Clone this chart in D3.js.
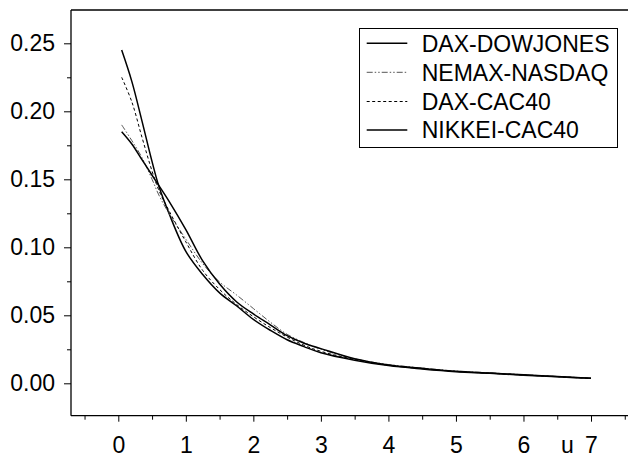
<!DOCTYPE html>
<html>
<head>
<meta charset="utf-8">
<script src="https://cdn.jsdelivr.net/npm/d3@7"></script>
<style>
html,body{margin:0;padding:0;background:#fff;}
svg{display:block;font-family:"Liberation Sans",Arial,sans-serif;}
</style>
</head>
<body>
<svg id="chart" width="628" height="457"></svg>
<script>
const seriesNames = ["DAX-DOWJONES", "NEMAX-NASDAQ", "DAX-CAC40", "NIKKEI-CAC40"];
const uValues = [0.05, 0.2, 0.35, 0.5, 0.6, 0.75, 1.0, 1.25, 1.5, 1.75, 2.0, 2.25, 2.5, 2.75, 3.0, 3.5, 4.0, 4.5, 5.0, 5.5, 6.0, 6.5, 7.0];
const daxDowjones = [0.245, 0.222, 0.193, 0.163, 0.145, 0.125, 0.097, 0.080, 0.0665, 0.057, 0.047, 0.039, 0.032, 0.027, 0.0225, 0.017, 0.013, 0.0105, 0.0085, 0.0073, 0.006, 0.0048, 0.0037];
const nemaxNasdaq = [0.19, 0.1785, 0.166, 0.150, 0.1385, 0.125, 0.106, 0.088, 0.0745, 0.065, 0.055, 0.045, 0.036, 0.030, 0.025, 0.018, 0.0138, 0.0112, 0.009, 0.0077, 0.0063, 0.005, 0.0038];
const daxCac40 = [0.225, 0.207, 0.181, 0.156, 0.142, 0.127, 0.104, 0.083, 0.069, 0.058, 0.049, 0.041, 0.034, 0.028, 0.0235, 0.0175, 0.0133, 0.0108, 0.0087, 0.0074, 0.0061, 0.0049, 0.0036];
const nikkeiCac40 = [0.185, 0.176, 0.1645, 0.153, 0.1455, 0.134, 0.113, 0.090, 0.073, 0.060, 0.051, 0.043, 0.035, 0.0295, 0.0255, 0.018, 0.0135, 0.011, 0.0088, 0.0075, 0.0062, 0.005, 0.0038];
const yTickValues = [0, 0.05, 0.10, 0.15, 0.20, 0.25];
const yMinorTicks = [0.025, 0.075, 0.125, 0.175, 0.225];
const xTickValues = [0, 1, 2, 3, 4, 5, 6, 7];
const xMinorTicks = [-0.5, 0.5, 1.5, 2.5, 3.5, 4.5, 5.5, 6.5, 7.5];
const xAxisLabel = "u";

const svg = d3.select("#chart");
const plotLeft = 71, plotTop = 10, plotBottom = 415.7, plotRight = 628;
const fontSize = 23;

const x = d3.scaleLinear().domain([0, 7]).range([118.3, 591]);
const y = d3.scaleLinear().domain([0, 0.25]).range([383.3, 43.3]);

const styles = [
  {stroke: "#000", width: 1.5, dash: null},
  {stroke: "#555", width: 1, dash: "6,2,1.5,2,1.5,2"},
  {stroke: "#000", width: 1, dash: "3,2.5"},
  {stroke: "#000", width: 1.5, dash: null}
];
const allSeries = [daxDowjones, nemaxNasdaq, daxCac40, nikkeiCac40];

// frame lines
svg.append("line").attr("x1", plotLeft).attr("x2", plotLeft).attr("y1", plotTop).attr("y2", plotBottom).attr("stroke", "#000").attr("stroke-width", 1.3);
svg.append("line").attr("x1", plotLeft).attr("x2", plotRight).attr("y1", plotTop).attr("y2", plotTop).attr("stroke", "#000").attr("stroke-width", 1.3);
svg.append("line").attr("x1", plotLeft).attr("x2", plotRight).attr("y1", plotBottom).attr("y2", plotBottom).attr("stroke", "#000").attr("stroke-width", 1.3);

// y axis
const yAxis = svg.append("g").attr("transform", `translate(${plotLeft},0)`)
  .call(d3.axisLeft(y).tickValues(yTickValues).tickSize(7).tickPadding(9).tickFormat(d3.format(".2f")));
yAxis.select(".domain").remove();
yAxis.selectAll("text").attr("font-size", fontSize).attr("font-family", "Liberation Sans, Arial, sans-serif").attr("fill", "#000");
const yMinor = svg.append("g").attr("transform", `translate(${plotLeft},0)`)
  .call(d3.axisLeft(y).tickValues(yMinorTicks).tickSize(4).tickFormat(""));
yMinor.select(".domain").remove();

// x axis
const xAxis = svg.append("g").attr("transform", `translate(0,${plotBottom})`)
  .call(d3.axisBottom(x).tickValues(xTickValues).tickSize(6).tickPadding(15).tickFormat(d3.format("d")));
xAxis.select(".domain").remove();
xAxis.selectAll("text").attr("font-size", fontSize).attr("font-family", "Liberation Sans, Arial, sans-serif").attr("fill", "#000");
const xMinor = svg.append("g").attr("transform", `translate(0,${plotBottom})`)
  .call(d3.axisBottom(x).tickValues(xMinorTicks).tickSize(4).tickFormat(""));
xMinor.select(".domain").remove();

svg.append("text").attr("x", x(6.65)).attr("y", plotBottom + 6 + 15).attr("dy", "0.71em").attr("text-anchor", "middle")
  .attr("font-size", fontSize).attr("fill", "#000").text(xAxisLabel);

// curves
const line = d3.line().x((d, i) => x(uValues[i])).y(d => y(d)).curve(d3.curveCatmullRom.alpha(0.5));
allSeries.forEach((s, k) => {
  svg.append("path").datum(s).attr("d", line).attr("fill", "none")
    .attr("stroke", styles[k].stroke).attr("stroke-width", styles[k].width)
    .attr("stroke-dasharray", styles[k].dash);
});

// legend
const lg = svg.append("g");
lg.append("rect").attr("x", 359.5).attr("y", 28.5).attr("width", 258).attr("height", 119)
  .attr("fill", "#fff").attr("stroke", "#000").attr("stroke-width", 1);
const rowY = [43.3, 72.3, 101.5, 130];
seriesNames.forEach((name, k) => {
  lg.append("line").attr("x1", 366.7).attr("x2", 407.3).attr("y1", rowY[k]).attr("y2", rowY[k])
    .attr("stroke", styles[k].stroke).attr("stroke-width", styles[k].width)
    .attr("stroke-dasharray", styles[k].dash);
  lg.append("text").attr("x", 421.7).attr("y", rowY[k]).attr("dy", "0.36em")
    .attr("font-size", fontSize).attr("fill", "#000").text(name);
});
</script>
</body>
</html>
